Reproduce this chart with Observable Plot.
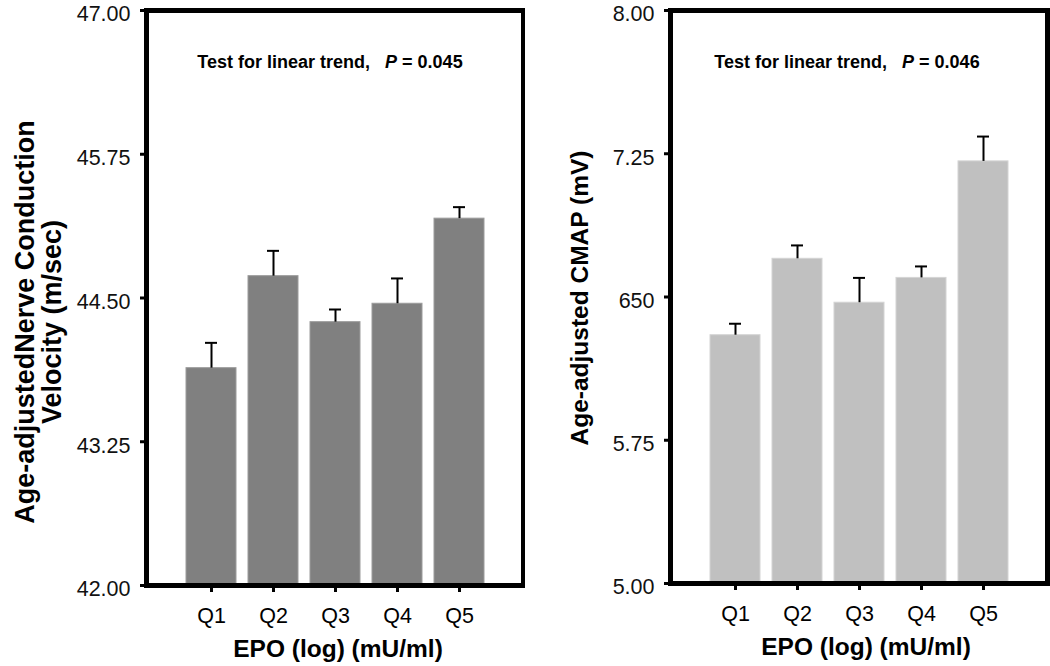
<!DOCTYPE html>
<html>
<head>
<meta charset="utf-8">
<script src="https://cdn.jsdelivr.net/npm/d3@7"></script>
<script src="https://cdn.jsdelivr.net/npm/@observablehq/plot@0.6"></script>
<style>
  html, body { margin: 0; padding: 0; background: #fff; }
  #wrap { display: flex; width: 1050px; height: 666px; }
  svg { overflow: visible; }
</style>
</head>
<body>
<div id="wrap"></div>
<script>
// ---- data ----
const quintiles = ["Q1", "Q2", "Q3", "Q4", "Q5"];
const ncvMean  = [43.89, 44.69, 44.29, 44.45, 45.19];
const ncvUpper = [44.11, 44.91, 44.40, 44.67, 45.29];
const cmapMean  = [6.30, 6.70, 6.47, 6.60, 7.21];
const cmapUpper = [6.36, 6.77, 6.60, 6.66, 7.34];
const ncvTicks = [42, 43.25, 44.5, 45.75, 47];
const ncvTickLabels = ["42.00", "43.25", "44.50", "45.75", "47.00"];
const cmapTicks = [5, 5.75, 6.5, 7.25, 8];
const cmapTickLabels = ["5.00", "5.75", "650", "7.25", "8.00"];
const ncvTitle = "Age-adjustedNerve Conduction\nVelocity (m/sec)";
const cmapTitle = "Age-adjusted CMAP (mV)";
const xTitle = "EPO (log) (mU/ml)";
const ncvTrend = "Test for linear trend,   P = 0.045";
const cmapTrend = "Test for linear trend,   P = 0.046";

const FONT = "'Liberation Sans', Arial, Helvetica, sans-serif";

function panel(cfg) {
  const rows = quintiles.map((q, i) => ({q, v: cfg.mean[i], hi: cfg.upper[i]}));
  const yMin = cfg.domain[0];
  return Plot.plot({
    width: 525, height: 666,
    marginLeft: cfg.ml, marginRight: cfg.mr, marginTop: cfg.mt, marginBottom: cfg.mb,
    style: {fontFamily: FONT, fontSize: "21px", background: "white", color: "black", overflow: "visible"},
    x: {type: "band", domain: quintiles, paddingInner: 0.2, paddingOuter: 0.6, label: null},
    y: {domain: cfg.domain, label: null},
    marks: [
      Plot.barY(rows, {x: "q", y1: yMin, y2: "v", fill: cfg.fill, stroke: cfg.edge, strokeWidth: 1}),
      Plot.ruleX(rows, {x: "q", y1: "v", y2: "hi", stroke: "black", strokeWidth: 2}),
      Plot.tickY(rows, {x: "q", y: "hi", stroke: "black", strokeWidth: 2, insetLeft: 19, insetRight: 19}),
      Plot.axisY({ticks: cfg.ticks, tickSize: 6, strokeWidth: 3, tickFormat: () => "", label: null}),
      Plot.text(cfg.ticks, {y: d => d, text: (d, i) => cfg.tickLabels[i], frameAnchor: "left",
        textAnchor: "end", dx: -16, dy: 4, fontSize: 21.5, fill: "#111"}),
      Plot.axisX({tickSize: 7, strokeWidth: 3, tickPadding: 15, fontSize: 21.5, label: null}),
      Plot.frame({stroke: "black", strokeWidth: 5}),
      Plot.text([cfg.trend], {frameAnchor: "top", dx: cfg.trendDx, dy: 52, lineAnchor: "middle",
        fontSize: 18, fontWeight: "bold", text: d => d}),
      Plot.text([xTitle], {frameAnchor: "bottom", dx: cfg.xDx, dy: 64, lineAnchor: "middle",
        fontSize: 24.5, fontWeight: "bold", text: d => d}),
      Plot.text([cfg.title], {frameAnchor: "left", dx: cfg.titleDx, dy: cfg.titleDy, rotate: -90,
        lineAnchor: "middle", textAnchor: "middle", lineHeight: cfg.lineHeight,
        fontSize: cfg.titleSize, fontWeight: "bold", text: d => d})
    ]
  });
}

const left = panel({
  mean: ncvMean, upper: ncvUpper, domain: [42, 47], ticks: ncvTicks, tickLabels: ncvTickLabels,
  fill: "#808080", edge: "#9c9c9c", ml: 146, mr: 2, mt: 10, mb: 81,
  trend: ncvTrend, trendDx: -5, xDx: 3,
  title: ncvTitle, titleDx: -108, titleDy: 24, titleSize: 27, lineHeight: 1.0
});
const right = panel({
  mean: cmapMean, upper: cmapUpper, domain: [5, 8], ticks: cmapTicks, tickLabels: cmapTickLabels,
  fill: "#c0c0c0", edge: "#d4d4d4", ml: 145, mr: 3, mt: 10, mb: 83,
  trend: cmapTrend, trendDx: -12, xDx: 7,
  title: cmapTitle, titleDx: -90, titleDy: 1, titleSize: 24.5, lineHeight: 1
});

const wrap = document.getElementById("wrap");
wrap.appendChild(left);
wrap.appendChild(right);

// italic "P" in the trend notes
d3.selectAll("text").filter(function() {
  return this.childElementCount === 0 && this.textContent.startsWith("Test for linear trend");
}).each(function() {
  const t = this.textContent;
  const idx = t.indexOf("P =");
  const sel = d3.select(this);
  sel.text(null);
  sel.append("tspan").style("white-space", "pre").text(t.slice(0, idx));
  sel.append("tspan").attr("font-style", "italic").text("P");
  sel.append("tspan").style("white-space", "pre").text(t.slice(idx + 1));
});
</script>
</body>
</html>
